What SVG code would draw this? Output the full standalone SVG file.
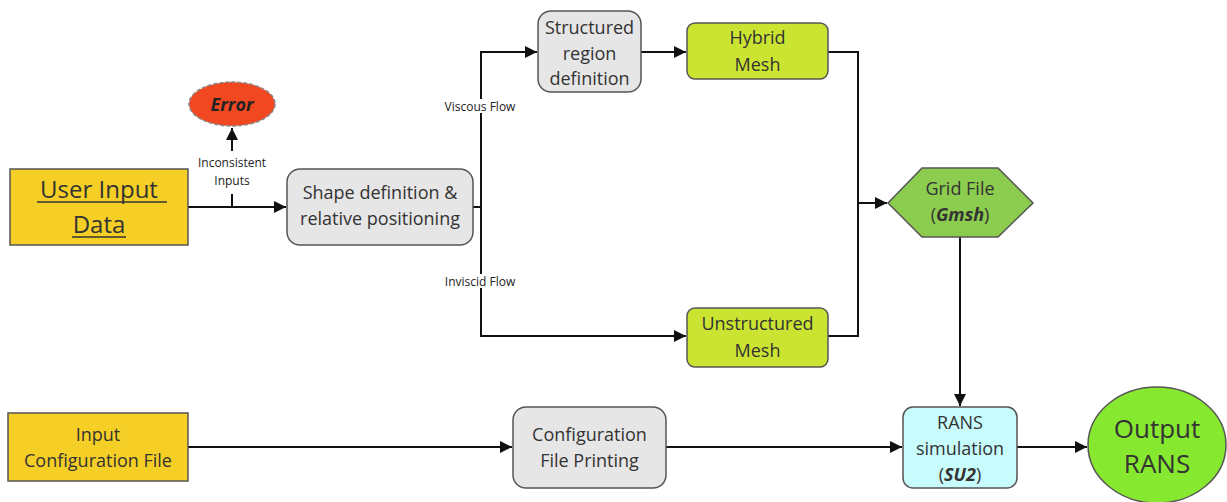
<svg xmlns="http://www.w3.org/2000/svg" width="1227" height="502" viewBox="0 0 1227 502">
<style>
text{font-family:"Open Sans","Noto Sans","Liberation Sans",sans-serif;fill:#333;text-anchor:middle;dominant-baseline:central}
.n{stroke:#555;stroke-width:1.5}
.t18{font-size:18px}
.lbl{font-size:12px;fill:#222}
.c{fill:none;stroke:#111;stroke-width:2}
</style>
<defs>
<marker id="ah" viewBox="0 0 10 10" refX="10" refY="5" markerWidth="12" markerHeight="12" markerUnits="userSpaceOnUse" orient="auto">
<path d="M0,0 L10,5 L0,10 z" fill="#111"/>
</marker>
</defs>
<rect width="1227" height="502" fill="#fff"/>
<g id="connectors">
<line class="c" x1="188" y1="207" x2="286" y2="207" marker-end="url(#ah)"/>
<line class="c" x1="232" y1="207" x2="232" y2="194"/>
<line class="c" x1="232" y1="151" x2="232" y2="128" marker-end="url(#ah)"/>
<polyline class="c" points="473,207 481,207"/>
<polyline class="c" points="481,99 481,52 537,52" marker-end="url(#ah)"/>
<polyline class="c" points="481,113 481,274"/>
<polyline class="c" points="481,288 481,336 686,336" marker-end="url(#ah)"/>
<line class="c" x1="641" y1="52" x2="686" y2="52" marker-end="url(#ah)"/>
<polyline class="c" points="828,52 858,52 858,336 828,336"/>
<line class="c" x1="858" y1="203" x2="887" y2="203" marker-end="url(#ah)"/>
<line class="c" x1="960" y1="237" x2="960" y2="406" marker-end="url(#ah)"/>
<line class="c" x1="188" y1="447" x2="512" y2="447" marker-end="url(#ah)"/>
<line class="c" x1="666" y1="447" x2="902" y2="447" marker-end="url(#ah)"/>
<line class="c" x1="1017" y1="447" x2="1087" y2="447" marker-end="url(#ah)"/>
<text class="lbl" x="232" y="162">Inconsistent</text>
<text class="lbl" x="232" y="180">Inputs</text>
<text class="lbl" x="480" y="106">Viscous Flow</text>
<text class="lbl" x="480" y="281">Inviscid Flow</text>
</g>
<g id="error">
<ellipse cx="232" cy="104" rx="43" ry="22" fill="#f24822" stroke="#888" stroke-width="1.5" stroke-dasharray="4 2"/>
<text x="232" y="104" font-size="18" font-weight="bold" font-style="italic" style="fill:#222">Error</text>
</g>
<g id="user-input">
<rect class="n" x="10" y="169" width="178" height="76" fill="#f6cf26"/>
<text x="99" y="188" font-size="24">User Input</text>
<text x="99" y="223" font-size="24">Data</text>
<line x1="37" y1="202" x2="167" y2="202" stroke="#333" stroke-width="1.5"/>
<line x1="72" y1="237" x2="126" y2="237" stroke="#333" stroke-width="1.5"/>
</g>
<g id="shape-def">
<rect class="n" x="287" y="169" width="186" height="76" rx="13" fill="#e6e6e6"/>
<text class="t18" x="380" y="192">Shape definition &amp;</text>
<text class="t18" x="380" y="218">relative positioning</text>
</g>
<g id="structured">
<rect class="n" x="538" y="11" width="103" height="81" rx="13" fill="#e6e6e6"/>
<text class="t18" x="589.5" y="27">Structured</text>
<text class="t18" x="589.5" y="53">region</text>
<text class="t18" x="589.5" y="78">definition</text>
</g>
<g id="hybrid">
<rect class="n" x="687" y="23" width="141" height="56" rx="8" fill="#cbe432"/>
<text class="t18" x="757.5" y="37">Hybrid</text>
<text class="t18" x="757.5" y="64">Mesh</text>
</g>
<g id="unstructured">
<rect class="n" x="687" y="308" width="141" height="59" rx="8" fill="#cbe432"/>
<text class="t18" x="757.5" y="323">Unstructured</text>
<text class="t18" x="757.5" y="350">Mesh</text>
</g>
<g id="grid-file">
<polygon class="n" points="888,203 922,168 998,168 1033,203 998,237 922,237" fill="#8ccd4f"/>
<text class="t18" x="960" y="188">Grid File</text>
<text class="t18" x="960" y="214">(<tspan font-weight="bold" font-style="italic">Gmsh</tspan>)</text>
</g>
<g id="input-config">
<rect class="n" x="8" y="413" width="180" height="68" fill="#f6cf26"/>
<text class="t18" x="98" y="434">Input</text>
<text class="t18" x="98" y="460">Configuration File</text>
</g>
<g id="config-print">
<rect class="n" x="513" y="407" width="153" height="81" rx="13" fill="#e6e6e6"/>
<text class="t18" x="589.5" y="434">Configuration</text>
<text class="t18" x="589.5" y="460">File Printing</text>
</g>
<g id="rans">
<rect class="n" x="903" y="407" width="114" height="81" rx="10" fill="#c8fbfb"/>
<text class="t18" x="960" y="422">RANS</text>
<text class="t18" x="960" y="448">simulation</text>
<text class="t18" x="960" y="474">(<tspan font-weight="bold" font-style="italic">SU2</tspan>)</text>
</g>
<g id="output">
<ellipse class="n" cx="1157" cy="445" rx="69" ry="58" fill="#86e82f"/>
<text x="1157" y="428" font-size="26">Output</text>
<text x="1157" y="463" font-size="26">RANS</text>
</g>
</svg>
